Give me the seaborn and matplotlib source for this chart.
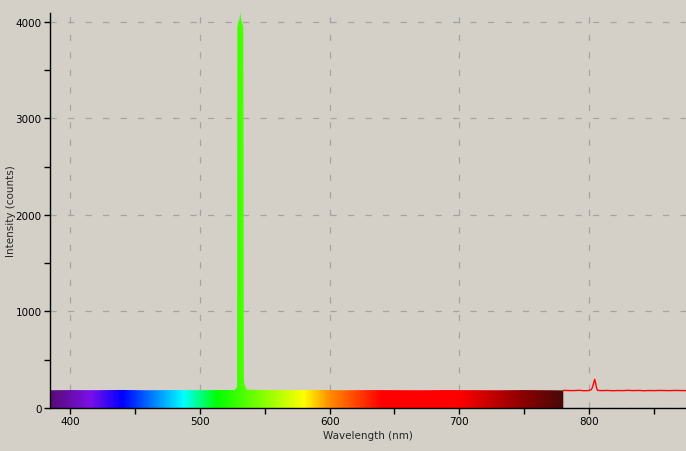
#Import Library
import numpy as np
import pandas as pd
import matplotlib
matplotlib.use("Agg")
import matplotlib.pyplot as plt
import seaborn as sns
from matplotlib.colors import LinearSegmentedColormap

#Data (wavelength in nm, intensity in counts)
wavelength = [384.7, 400, 420, 440, 460, 480, 500, 515, 527.0, 528.0, 528.8,
              529.0, 529.8, 530.5, 531.1, 531.6, 532.3, 533.0, 533.6, 534.0,
              534.6, 535.3, 536.5, 550, 570, 590, 610, 630, 650, 670, 690,
              710, 730, 750, 770, 780, 784, 788, 792, 796, 800, 801.5, 802.5,
              803.5, 804.2, 805.0, 805.8, 806.5, 810, 814, 818, 822, 826, 830,
              834, 838, 842, 846, 850, 854, 858, 862, 866, 870, 874.5]
intensity = [184, 186, 185, 187, 184, 186, 185, 186, 187, 205, 215,
             3950, 4000, 4020, 4095, 4060, 4000, 3980, 3950, 300,
             240, 215, 190, 186, 185, 187, 184, 186, 185, 184, 186,
             185, 184, 186, 184, 182, 181, 180, 183, 179, 181, 190, 215,
             265, 297, 250, 200, 182, 180, 182, 179, 181, 180, 183,
             180, 182, 179, 181, 180, 182, 181, 180, 182, 181, 180]

#Colour stops of the visible band
band_nm = [384.7, 415, 440, 487, 513, 580, 600, 640, 700, 740, 780]
band_colors = ["#5a0a78", "#7a10e8", "#0000ff", "#00ffff", "#00ff00", "#ffff00",
               "#ff8c00", "#ff0000", "#ff0000", "#a00000", "#4a0808"]
visible_end = 780

df = pd.DataFrame({"Wavelength": wavelength, "Intensity": intensity})

#Style
bg = "#d4d0c8"
sns.set_style("ticks", {"axes.facecolor": bg, "figure.facecolor": bg,
                        "axes.edgecolor": "black"})
plt.rcParams["font.family"] = ["DejaVu Sans"]

fig = plt.figure(figsize=(6.86, 4.52), dpi=100)
ax = fig.add_axes([50 / 686, 43 / 452, 636 / 686, 395 / 452])

xmin, xmax = 384.7, 874.5
ymax = 4093

#Red trace beyond the visible band
df_ir = df[df.Wavelength >= visible_end - 1]
sns.lineplot(data=df_ir, x="Wavelength", y="Intensity", color="#ff0000",
             linewidth=1.0, ax=ax, zorder=3)

#Rainbow fill under the spectrum in the visible range
df_vis = df[df.Wavelength <= visible_end]
poly = ax.fill_between(df_vis.Wavelength, 0, df_vis.Intensity, color="none",
                       linewidth=0)
stops = [(w - band_nm[0]) / (band_nm[-1] - band_nm[0]) for w in band_nm]
cmap = LinearSegmentedColormap.from_list("band", list(zip(stops, band_colors)))
grad = np.linspace(0, 1, 600).reshape(1, -1)
img = ax.imshow(grad, cmap=cmap, aspect="auto", origin="lower",
                extent=(band_nm[0], band_nm[-1], 0, ymax), zorder=2,
                interpolation="bilinear")
img.set_clip_path(poly.get_paths()[0], transform=ax.transData)

ax.set_xlim(xmin, xmax)
ax.set_ylim(0, ymax)

#Ticks and grid
ax.set_xticks([400, 500, 600, 700, 800])
ax.set_xticks([450, 550, 650, 750, 850], minor=True)
ax.set_yticks([0, 1000, 2000, 3000, 4000])
ax.set_yticks([500, 1500, 2500, 3500], minor=True)
ax.tick_params(which="both", direction="out", length=4, width=1,
               labelsize=7.5, colors="black", pad=2)
ax.grid(True, which="major", color="#a4a4a4", linewidth=0.9,
        linestyle=(0, (5, 9)))
ax.set_axisbelow(True)

sns.despine(ax=ax, top=True, right=True)
ax.spines["left"].set_linewidth(1)
ax.spines["bottom"].set_linewidth(1)

ax.set_xlabel("Wavelength (nm)", fontsize=7.5, labelpad=3)
ax.set_ylabel("Intensity (counts)", fontsize=7.5)
ax.yaxis.set_label_coords(-34 / 636, 0.5)

fig.savefig("out.png", dpi=100, facecolor=bg)
